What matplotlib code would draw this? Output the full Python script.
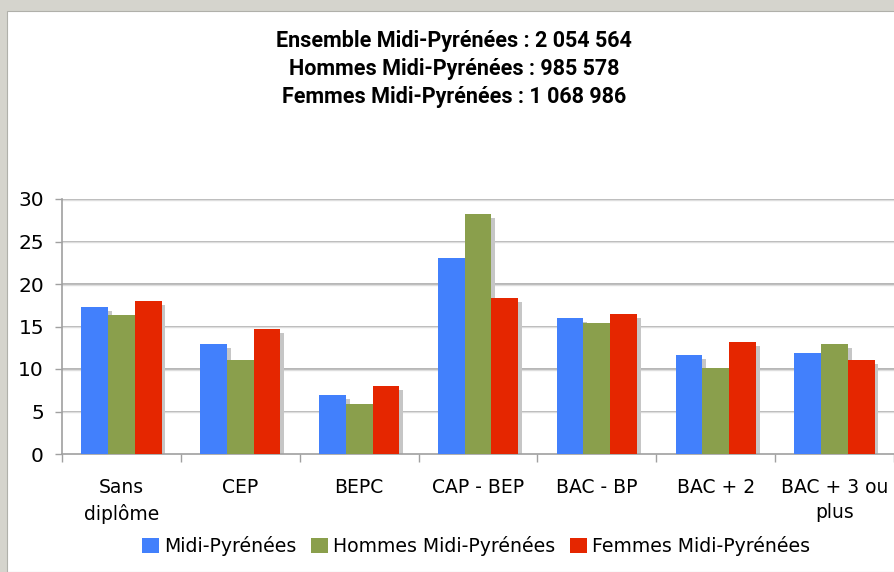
import numpy as np
import matplotlib
matplotlib.use("Agg")
from matplotlib import pyplot as plt
from matplotlib.patches import Rectangle, Patch

# Data (percent)
categories = ["Sans\ndiplôme", "CEP", "BEPC", "CAP - BEP", "BAC - BP", "BAC + 2", "BAC + 3 ou\nplus"]
ensemble = [17.3, 12.95, 6.9, 23.05, 16.0, 11.65, 11.9]
hommes = [16.35, 11.05, 5.9, 28.25, 15.4, 10.1, 12.95]
femmes = [18.0, 14.7, 8.0, 18.35, 16.5, 13.2, 11.05]
series_names = ["Midi-Pyrénées", "Hommes Midi-Pyrénées", "Femmes Midi-Pyrénées"]
title_lines = ["Ensemble Midi-Pyrénées : 2 054 564",
               "Hommes Midi-Pyrénées : 985 578",
               "Femmes Midi-Pyrénées : 1 068 986"]

colors = ["#4280fc", "#8a9f4c", "#e52600"]
shadow = "#c6c6c6"

fig = plt.figure(figsize=(8.94, 5.72), dpi=100)
fig.patch.set_facecolor("#d5d4cd")
# white window area
fig.add_artist(Rectangle((7 / 894, 0), 1, 1 - 11 / 572, transform=fig.transFigure,
                         facecolor="white", edgecolor="#b0b0aa", lw=0.8, zorder=0))

ax = fig.add_axes([62 / 894, 1 - 454 / 572, 832 / 894, 255 / 572])
ax.set_facecolor("none")

x = np.arange(len(categories)) + 0.5
w = 0.225
dx, dy = 0.032, 0.45
for i, vals in enumerate([ensemble, hommes, femmes]):
    pos = x + (i - 1) * w
    ax.bar(pos + dx, np.array(vals) - dy, width=w, color=shadow, zorder=2)
for i, vals in enumerate([ensemble, hommes, femmes]):
    pos = x + (i - 1) * w
    ax.bar(pos, vals, width=w, color=colors[i], zorder=3)

ax.set_xlim(0, 7)
ax.set_ylim(0, 30)
ax.set_yticks(range(0, 31, 5))
for v in range(5, 31, 5):
    ax.axhline(v, color="#a2a2a2", lw=1.1, zorder=1)
    ax.axhline(v - 0.1, color="#dedede", lw=1.0, zorder=1)

ax.set_xticks(x)
ax.set_xticklabels(categories, fontsize=13.5, linespacing=1.45)
ax.set_xticks(np.arange(0, 8), minor=True)
ax.tick_params(axis="x", which="major", length=0, pad=17)
ax.tick_params(axis="x", which="minor", length=6, color="#a0a0a0", width=1)
ax.tick_params(axis="y", length=5, color="#a0a0a0", width=1, pad=8, labelsize=14.5)

for s in ["top", "right"]:
    ax.spines[s].set_visible(False)
ax.spines["left"].set_color("#a0a0a0")
ax.spines["bottom"].set_color("#a0a0a0")
ax.spines["left"].set_linewidth(1.2)
ax.spines["bottom"].set_linewidth(1.2)

for k, line in enumerate(title_lines):
    fig.text(0.508, 1 - (41 + 28 * k) / 572, line, ha="center", va="center",
             fontsize=15.5, fontweight="bold", family="Roboto")

handles = [Patch(facecolor=c, edgecolor="none") for c in colors]
fig.legend(handles, series_names, loc="center", bbox_to_anchor=(476 / 894, 1 - 546 / 572),
           ncol=3, frameon=False, fontsize=13.6, handlelength=0.9, handleheight=0.9,
           handletextpad=0.25, columnspacing=0.8, borderpad=0)

fig.savefig("out.png", dpi=100, facecolor=fig.get_facecolor())
